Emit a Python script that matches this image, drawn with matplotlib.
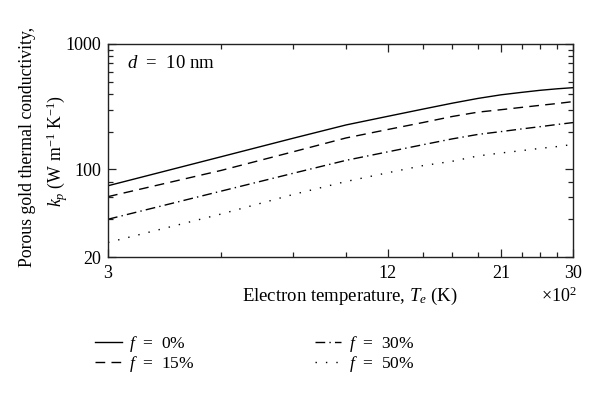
import matplotlib
matplotlib.use("Agg")
import matplotlib.pyplot as plt
from matplotlib.ticker import FixedLocator, NullFormatter

plt.rcParams['font.family'] = ['Liberation Serif', 'DejaVu Serif']
plt.rcParams['mathtext.fontset'] = 'custom'
plt.rcParams['mathtext.rm'] = 'Liberation Serif'
plt.rcParams['mathtext.it'] = 'Liberation Serif:italic'

# electron temperature (x10^2 K)
temp = [3, 5.25, 7.5, 9.75, 12, 14.25, 16.5, 18.75, 21, 23.25, 25.5, 27.75, 30]
# porous gold thermal conductivity k_p (W m^-1 K^-1)
k_f0 = [74, 126, 177, 226, 265, 302, 337, 368, 393, 411, 427, 439, 448]
k_f15 = [60.6, 98, 138, 178, 208, 236, 264, 286, 299, 312, 324, 335, 347]
k_f30 = [40, 67, 93, 118, 138, 157, 175, 190, 200, 210, 219, 228, 236]
k_f50 = [26.1, 44, 63, 80, 94, 107, 116, 128, 135, 141, 147, 152, 158]

xticks_major = [3, 12, 21, 30]
xticks_minor = [5.25, 7.5, 9.75, 14.25, 16.5, 18.75, 23.25, 25.5, 27.75]
yticks_major = [20, 100, 1000]
yticks_minor = [40, 60, 80, 200, 300, 400, 500, 600, 700, 800, 900]

fig = plt.figure(figsize=(6, 3.96), dpi=100)
ax = fig.add_axes([0.18, 0.351, 0.775, 0.538])

lw = 1.0
ax.plot(temp, k_f0, color='black', lw=lw, linestyle='-', label=r'$f$  =  0%')
ax.plot(temp, k_f15, color='black', lw=lw, linestyle=(0, (7, 4.5)), label=r'$f$  =  15%')
ax.plot(temp, k_f30, color='black', lw=lw, linestyle=(0, (7, 3, 1, 3)), label=r'$f$  =  30%')
ax.plot(temp, k_f50, color='black', lw=lw, linestyle=(0, (1, 6.5)), label=r'$f$  =  50%')

ax.set_xscale('log')
ax.set_yscale('log')
ax.set_xlim(3, 30)
ax.set_ylim(20, 1000)

ax.xaxis.set_major_locator(FixedLocator(xticks_major))
ax.xaxis.set_minor_locator(FixedLocator(xticks_minor))
ax.set_xticklabels([str(t) for t in xticks_major])
ax.xaxis.set_minor_formatter(NullFormatter())
ax.yaxis.set_major_locator(FixedLocator(yticks_major))
ax.yaxis.set_minor_locator(FixedLocator(yticks_minor))
ax.set_yticklabels([str(t) for t in yticks_major])
ax.yaxis.set_minor_formatter(NullFormatter())

ax.tick_params(which='both', direction='in', top=True, right=True,
               labelsize=13, width=0.9, color='#222222')
ax.tick_params(which='major', length=6)
ax.tick_params(which='minor', length=3.5)
ax.tick_params(axis='x', which='major', pad=6)
ax.tick_params(axis='y', which='major', pad=5)
for s in ax.spines.values():
    s.set_linewidth(1.0)
    s.set_color('#222222')

ax.text(0.04, 0.91, r'$d$  =  10 nm', transform=ax.transAxes, fontsize=13.5, va='center')

fig.text(350 / 600, 1 - 296 / 396, r'Electron temperature, $T_e$ (K)',
         ha='center', va='center', fontsize=13.5)
fig.text(577 / 600, 1 - 296 / 396, r'$\times$10$^2$', ha='right', va='center', fontsize=13)

fig.text(28 / 600, 1 - 147 / 396, 'Porous gold thermal conductivity,', rotation=90,
         ha='center', va='center', fontsize=12.8)
fig.text(57 / 600, 1 - 151 / 396, r'$k_p$ (W m$^{-1}$ K$^{-1}$)', rotation=90,
         ha='center', va='center', fontsize=12.8)

fig.legend(loc='upper left', bbox_to_anchor=(79 / 600, 1 - 318 / 396), ncol=2,
           frameon=False, fontsize=12.5, handlelength=1.55, handletextpad=0.45,
           columnspacing=6.9, labelspacing=0.05)

fig.savefig('out.png', dpi=100)
